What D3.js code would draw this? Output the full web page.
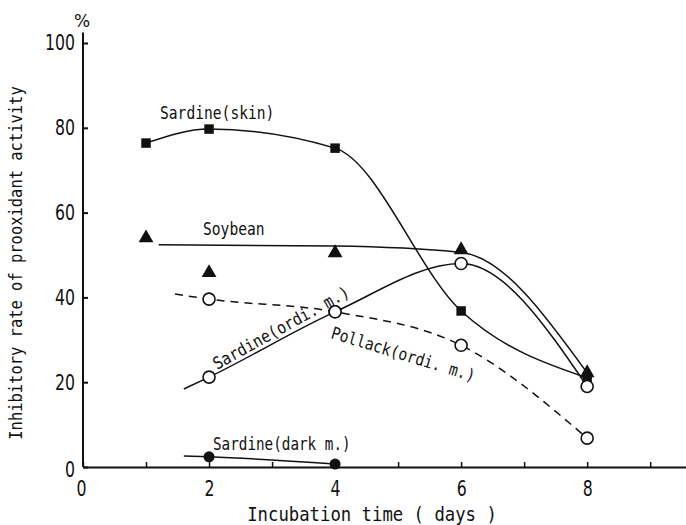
<!DOCTYPE html>
<html>
<head>
<meta charset="utf-8">
<script src="https://cdn.jsdelivr.net/npm/d3@7/dist/d3.min.js"></script>
<style>
  html, body { margin: 0; padding: 0; background: #fff; }
  svg { display: block; }
  .mono { font-family: "DejaVu Sans Mono", "Liberation Mono", monospace; fill: #111; }
  .num { font-family: "DejaVu Sans", sans-serif; fill: #111; }
</style>
</head>
<body>
<svg id="chart" width="686" height="525"></svg>
<script>
// Incubation time (days) and inhibitory rate (%) per sample
const sardineSkin = [[1, 76.4], [2, 79.7], [4, 75.2], [6, 36.8], [8, 21.0]];
const soybean = [[1, 54.0], [2, 45.8], [4, 50.5], [6, 51.2], [8, 22.2]];
const soybeanFit = [[1.2, 52.4], [4, 52.1], [6, 50.6], [8, 22.2]];
const sardineOrdi = [[2, 21.2], [4, 36.6], [6, 48.0], [8, 19.0]];
const sardineOrdiFit = [[1.6, 18.4], [2, 21.2], [4, 36.6], [6, 48.0], [8, 19.0]];
const pollackOrdi = [[2, 39.6], [4, 36.6], [6, 28.7], [8, 6.8]];
const pollackOrdiFit = [[1.46, 40.8], [2, 39.6], [4, 36.6], [6, 28.7], [8, 6.8]];
const sardineDark = [[2, 2.4], [4, 0.7]];
const sardineDarkFit = [[1.6, 2.6], [2, 2.4], [4, 0.7]];

const xTicks = [0, 1, 2, 3, 4, 5, 6, 7, 8, 9];
const yTicks = [0, 20, 40, 60, 80, 100];

const svg = d3.select("#chart");

const x = d3.scaleLinear().domain([0, 9.6]).range([83, 688]);
const y = d3.scaleLinear().domain([0, 100]).range([467, 43]);

// narrow, tall glyphs: fix the advance per character
function squeeze(sel, perChar) {
  sel.attr("textLength", function() { return this.textContent.length * perChar; })
     .attr("lengthAdjust", "spacingAndGlyphs");
}

// Axes: ticks point inward
const xAxis = d3.axisBottom(x).tickValues(xTicks).tickSizeInner(-5).tickSizeOuter(0)
  .tickFormat(d => d % 2 === 0 ? String(d) : "");
const gx = svg.append("g").attr("transform", `translate(0,${y(0)})`).call(xAxis);
gx.select(".domain").attr("stroke", "#111").attr("stroke-width", 2);
gx.selectAll(".tick line").attr("stroke", "#111").attr("stroke-width", 1.5);
gx.selectAll(".tick text")
  .attr("class", "num")
  .attr("font-size", 20.5)
  .attr("y", 0).attr("dy", 29)
  .attr("dx", d => d === 0 ? -2 : 0)
  .call(squeeze, 10);

const yAxis = d3.axisLeft(y).tickValues(yTicks).tickSizeInner(-5).tickSizeOuter(0).tickPadding(8);
const gy = svg.append("g").attr("transform", `translate(${x(0)},0)`).call(yAxis);
gy.select(".domain").attr("stroke", "#111").attr("stroke-width", 2)
  .attr("d", `M0,${y(0)}V${y(102.5)}`);
gy.selectAll(".tick line").attr("stroke", "#111").attr("stroke-width", 2);
gy.selectAll(".tick text")
  .attr("class", "num")
  .attr("font-size", 20.5)
  .attr("dy", d => d === 0 ? "0.45em" : "0.34em")
  .call(squeeze, 10);

svg.append("text").attr("class", "num").attr("x", x(0) - 1).attr("y", 27)
  .attr("text-anchor", "middle").attr("font-size", 17).text("%");

// Axis titles
svg.append("text").attr("class", "mono")
  .attr("transform", `translate(22,${(y(0) + y(100)) / 2 + 8}) rotate(-90)`)
  .attr("text-anchor", "middle").attr("font-size", 17)
  .text("Inhibitory rate of prooxidant activity")
  .call(squeeze, 9.3);
svg.append("text").attr("class", "mono")
  .attr("x", 372).attr("y", 521)
  .attr("text-anchor", "middle").attr("font-size", 19)
  .text("Incubation time ( days )")
  .call(squeeze, 10.4);

// Curves
const line = d3.line().x(d => x(d[0])).y(d => y(d[1])).curve(d3.curveMonotoneX);
const curves = [
  { data: sardineSkin, dash: null },
  { data: soybeanFit, dash: null },
  { data: sardineOrdiFit, dash: null },
  { data: pollackOrdiFit, dash: "8,6" },
  { data: sardineDarkFit, dash: null }
];
svg.append("g").selectAll("path").data(curves).join("path")
  .attr("d", c => line(c.data))
  .attr("fill", "none").attr("stroke", "#111").attr("stroke-width", 1.5)
  .attr("stroke-dasharray", c => c.dash);

// Markers
const marks = svg.append("g");
marks.selectAll(".tri").data(soybean).join("path").attr("class", "tri")
  .attr("transform", d => `translate(${x(d[0])},${y(d[1])})`)
  .attr("d", d3.symbol(d3.symbolTriangle, 95)).attr("fill", "#111");
marks.selectAll(".sq").data(sardineSkin).join("path").attr("class", "sq")
  .attr("transform", d => `translate(${x(d[0])},${y(d[1])})`)
  .attr("d", d3.symbol(d3.symbolSquare, 90)).attr("fill", "#111");
marks.selectAll(".oc").data(pollackOrdi.concat(sardineOrdi)).join("circle").attr("class", "oc")
  .attr("cx", d => x(d[0])).attr("cy", d => y(d[1])).attr("r", 6)
  .attr("fill", "#fff").attr("stroke", "#111").attr("stroke-width", 1.6);
marks.selectAll(".fc").data(sardineDark).join("circle").attr("class", "fc")
  .attr("cx", d => x(d[0])).attr("cy", d => y(d[1])).attr("r", 5.5)
  .attr("fill", "#111");

// Series labels
const labels = svg.append("g").attr("class", "mono").attr("font-size", 17);
labels.append("text").attr("x", 160).attr("y", 119).text("Sardine(skin)").call(squeeze, 8.8);
labels.append("text").attr("x", 203).attr("y", 235).text("Soybean").call(squeeze, 8.8);
labels.append("text").attr("transform", "translate(217,370) rotate(-29)").text("Sardine(ordi. m.)").call(squeeze, 9);
labels.append("text").attr("transform", "translate(330,338) rotate(17)").text("Pollack(ordi. m.)").call(squeeze, 8.8);
labels.append("text").attr("x", 213).attr("y", 450).text("Sardine(dark m.)").call(squeeze, 8.6);
</script>
</body>
</html>
